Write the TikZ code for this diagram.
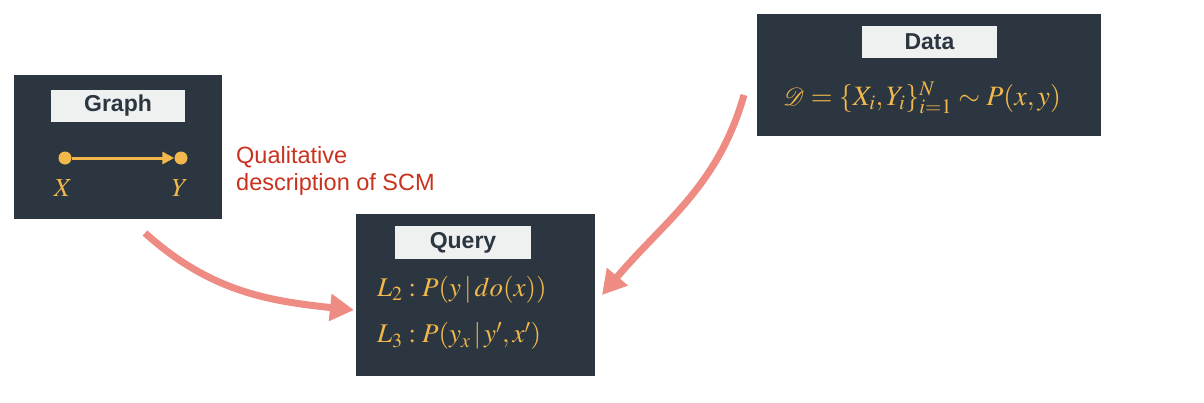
\documentclass[tikz,border=0pt]{standalone}
\usepackage{fontspec}
\usepackage{mathptmx}
\usepackage{mathrsfs}
\usetikzlibrary{arrows.meta}
\newfontfamily\hvfont{Liberation Sans}
\definecolor{panel}{HTML}{2B3640}
\definecolor{labelbg}{HTML}{EEF1F0}
\definecolor{gold}{HTML}{F2B84B}
\definecolor{salmon}{HTML}{EE8B82}
\definecolor{redtext}{HTML}{C8321F}
\begin{document}
\begin{tikzpicture}[x=1pt,y=-1pt,
  panelbox/.style={rectangle,fill=panel,draw=none,inner sep=0pt},
  labelbox/.style={rectangle,fill=labelbg,draw=none,inner sep=0pt,text=panel,
     font=\hvfont\bfseries\fontsize{23}{26}\selectfont},
  mathtext/.style={text=gold,inner sep=0pt,font=\fontsize{27}{32}\selectfont},
  bigarrow/.style={salmon,line width=7pt,-{Triangle[length=24pt,width=26pt]}},
  dot/.style={circle,fill=gold,inner sep=0pt,minimum size=13pt}]
\useasboundingbox (0,0) rectangle (1204,402);
\fill[white] (0,0) rectangle (1204,402);
% panels
\node[panelbox,minimum width=208pt,minimum height=144pt] (graph) at (118,147) {};
\node[panelbox,minimum width=344pt,minimum height=122pt] (data) at (929,75) {};
\node[panelbox,minimum width=239pt,minimum height=162pt] (query) at (475.5,295) {};
% labels
\node[labelbox,minimum width=134pt,minimum height=32pt] (glab) at (118,106) {Graph};
\node[labelbox,minimum width=135pt,minimum height=32pt] (dlab) at (929.5,42) {Data};
\node[labelbox,minimum width=136pt,minimum height=33pt] (qlab) at (463,242.5) {Query};
% graph content
\node[dot] (xd) at (65,158) {};
\node[dot] (yd) at (181,158) {};
\draw[gold,line width=3pt,-{Triangle[length=12pt,width=12pt]}] (xd) -- (yd);
\node[mathtext,font=\fontsize{26}{30}\selectfont] (xl) at (63,188) {$X$};
\node[mathtext,font=\fontsize{26}{30}\selectfont] (yl) at (180,188) {$Y$};
% red description
\node[text=redtext,anchor=north west,align=left,inner sep=0pt,
  font=\hvfont\fontsize{23.5}{27}\selectfont] (desc) at (236,146) {Qualitative\\description of SCM};
% data formula
\node[mathtext,font=\fontsize{28}{32}\selectfont] (df) at (922,98) {$\mathscr{D} = \{X_i, Y_i\}_{i=1}^{N} \sim P(x, y)$};
% query formulas
\node[mathtext,anchor=west] (q2) at (377,290) {$L_2 : P(y\,|\,do(x))$};
\node[mathtext,anchor=west] (q3) at (377,336) {$L_3 : P(y_x\,|\,y', x')$};
% arrows
\coordinate (a1s) at (145,233);
\coordinate (a1e) at (354,310);
\coordinate (a2s) at (744,95);
\coordinate (a2e) at (602,295);
\draw[bigarrow] (a1s) to[out=-42,in=174] (a1e);
\draw[bigarrow] (a2s) to[out=-106,in=50] (a2e);
\end{tikzpicture}
\end{document}
